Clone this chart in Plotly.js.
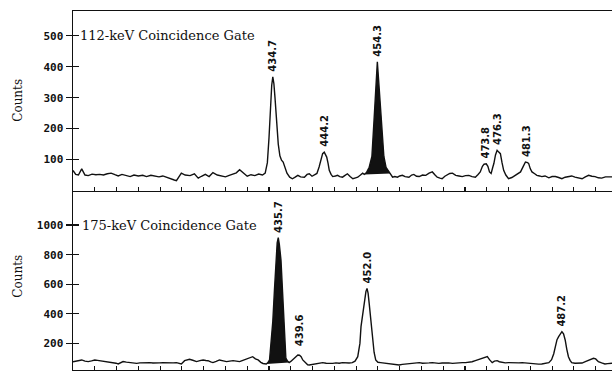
<!DOCTYPE html>
<html><head><meta charset="utf-8">
<script src="https://cdn.plot.ly/plotly-3.0.1.min.js"></script>
<style>html,body{margin:0;padding:0;background:#fff;} #chart{width:612px;height:371px;}</style>
</head><body><div id="chart"></div>
<script>
// ---- 112-keV gate spectrum (energy keV, counts) ----
const topEnergy = [398.0,398.5,399.0,399.6,400.2,400.8,401.5,402.2,402.9,403.6,404.3,405.0,405.7,406.3,407.0,407.8,408.5,409.2,410.0,410.8,411.5,412.3,413.0,413.8,414.5,415.2,416.0,416.6,417.0,417.5,417.9,418.6,419.5,420.3,421.0,421.6,422.3,423.0,423.7,424.5,425.2,426.0,426.7,427.4,428.0,428.6,429.3,430.0,430.7,431.4,432.1,432.8,433.3,433.7,434.0,434.3,434.5,434.7,434.9,435.1,435.4,435.7,436.0,436.3,436.6,436.9,437.3,437.8,438.3,438.8,439.3,439.8,440.5,441.0,441.4,441.9,442.3,442.8,443.2,443.6,443.85,444.15,444.4,444.6,444.85,445.07,445.4,445.7,446.2,446.6,447.0,447.5,447.9,448.4,448.9,449.4,449.9,450.3,450.8,451.2,451.5,451.9,452.4,452.9,453.3,453.6,453.9,454.2,454.5,454.8,455.1,455.5,455.9,456.3,456.7,457.1,457.6,458.0,458.5,459.0,459.7,460.2,460.6,461.1,461.6,462.2,462.8,463.4,464.0,464.5,464.9,465.4,465.8,466.3,466.7,467.2,467.7,468.3,468.9,469.5,470.1,470.7,471.3,471.9,472.4,472.8,473.2,473.5,473.9,474.2,474.5,474.8,475.1,475.3,475.6,475.9,476.2,476.5,476.8,477.1,477.5,478.0,478.6,479.3,479.8,480.2,480.7,481.1,481.5,481.7,482.0,482.3,482.8,483.2,483.7,484.1,484.7,485.4,486.0,486.6,487.2,487.8,488.4,489.0,489.6,490.2,490.8,491.5,492.1,492.7,493.3,493.9,494.5,495.1,495.8,496.7,497.0];
const topCounts = [65,52,50,70,50,48,53,51,52,50,54,56,51,47,52,48,45,50,47,49,45,49,47,44,47,42,38,34,32,45,56,50,48,54,40,46,52,45,58,50,46,44,49,52,57,67,55,46,51,48,53,50,56,90,170,280,340,367,345,300,220,150,112,98,92,75,56,43,38,43,49,44,43,52,54,46,49,55,76,105,119,124,115,108,88,65,52,45,47,49,45,43,48,54,45,38,41,43,50,56,52,58,75,110,230,330,416,340,250,170,110,75,64,55,43,45,43,47,49,45,43,50,52,46,45,50,49,56,60,50,43,40,38,46,49,55,56,49,47,45,48,49,45,43,52,60,78,85,86,78,60,55,75,87,115,130,124,119,90,65,50,38,42,49,55,60,78,92,90,87,70,60,54,49,47,45,47,41,45,45,42,38,43,45,47,43,41,38,44,49,46,45,41,40,44,45,44];

// ---- 175-keV gate spectrum ----
const botEnergy = [398.0,398.5,399.0,399.6,400.2,400.8,401.4,402.0,402.5,402.9,403.6,404.2,404.8,405.4,405.9,406.3,406.8,407.2,407.8,408.4,409.0,409.7,410.3,410.9,411.5,412.1,412.7,413.3,413.9,414.5,415.2,415.8,416.4,417.0,417.5,417.9,418.5,419.0,419.4,420.0,420.7,421.3,421.9,422.4,422.8,423.3,423.7,424.3,424.9,425.6,426.2,426.8,427.4,428.0,428.6,429.2,429.8,430.4,431.0,431.5,432.0,432.5,432.9,433.5,433.8,434.1,434.4,434.7,435.0,435.3,435.5,435.7,435.9,436.2,436.4,436.6,436.9,437.1,437.4,437.7,438.0,438.3,438.8,439.3,439.6,439.9,440.2,440.5,440.8,441.1,441.4,442.0,442.6,443.2,443.85,444.5,445.1,445.7,446.3,446.9,447.5,448.1,448.7,449.3,449.8,450.3,450.7,450.9,451.2,451.5,451.8,452.0,452.2,452.4,452.7,453.0,453.3,453.6,454.0,454.5,455.0,455.5,456.1,456.7,457.3,457.9,458.5,459.1,459.7,460.3,460.9,461.6,462.2,462.8,463.4,464.0,464.6,465.2,465.8,466.4,467.0,467.7,468.3,468.9,469.5,470.1,470.7,471.3,471.9,472.5,473.1,473.6,474.1,474.5,475.0,475.4,475.9,476.3,476.8,477.4,478.0,478.6,479.3,479.9,480.5,481.1,481.7,482.3,482.9,483.5,484.1,484.7,485.4,485.9,486.3,486.6,486.9,487.2,487.5,487.8,488.1,488.4,488.7,489.0,489.3,489.6,490.2,490.9,491.5,492.1,492.8,493.6,494.0,494.5,495.1,495.7,496.2,496.7,497.0];
const botCounts = [76,80,82,88,80,77,82,88,85,83,80,77,73,70,66,61,72,77,73,70,68,65,68,70,68,70,67,65,68,70,68,65,68,70,66,61,83,90,92,86,77,83,88,84,83,75,70,78,88,82,77,80,83,80,77,85,92,100,110,95,88,72,64,61,70,88,200,350,560,780,880,915,870,764,600,400,200,100,80,70,78,88,105,121,120,110,88,76,60,55,54,58,65,67,70,66,64,65,68,66,70,68,67,70,80,110,200,313,400,493,550,572,540,471,350,223,140,88,72,70,67,65,62,61,58,54,58,61,63,65,68,70,66,65,68,70,66,65,67,70,68,65,68,70,70,70,72,76,84,92,100,105,110,90,70,80,83,76,70,68,70,68,65,68,70,67,65,62,61,60,61,65,70,90,130,178,225,246,268,279,265,223,160,110,85,70,66,65,67,76,85,99,95,76,68,61,63,65,66];

// filled (shaded) peak windows, keV
const topShadeRange = [451.4, 456.5];
const botShadeRange = [433.4, 437.8];

// peak labels
const topPeakLabels = ['434.7','444.2','454.3','473.8','476.3','481.3'];
const topPeakE      = [434.7, 444.2, 454.0, 473.8, 476.0, 481.2];
const topPeakY      = [367, 124, 416, 86, 130, 92];
const botPeakLabels = ['435.7','439.6','452.0','487.2'];
const botPeakE      = [435.7, 439.6, 452.0, 487.8];
const botPeakY      = [915, 150, 572, 279];

const gateLabels = ['112-keV Coincidence Gate','175-keV Coincidence Gate'];
const gateLabelY = [500, 1000];
const topTicks = [100,200,300,400,500];
const botTicks = [200,400,600,800,1000];
const xTick0 = 402, xDtick = 4;
const xRange = [398, 497];

function slice(E, C, r){
  const xs=[], ys=[];
  for(let i=0;i<E.length;i++){ if(E[i]>=r[0] && E[i]<=r[1]){ xs.push(E[i]); ys.push(C[i]); } }
  return {x:xs, y:ys};
}
const topShade = slice(topEnergy, topCounts, topShadeRange);
const botShade = slice(botEnergy, botCounts, botShadeRange);

const lineStyle = {color:'#111', width:1.4};
const traces = [
  {x:topShade.x, y:topShade.y, xaxis:'x', yaxis:'y', mode:'lines', fill:'toself', fillcolor:'#111', line:{width:0}, hoverinfo:'skip'},
  {x:topEnergy, y:topCounts, xaxis:'x', yaxis:'y', mode:'lines', line:lineStyle},
  {x:botShade.x, y:botShade.y, xaxis:'x2', yaxis:'y2', mode:'lines', fill:'toself', fillcolor:'#111', line:{width:0}, hoverinfo:'skip'},
  {x:botEnergy, y:botCounts, xaxis:'x2', yaxis:'y2', mode:'lines', line:lineStyle},
  {x:[], y:[], xaxis:'x', yaxis:'y3', mode:'lines', hoverinfo:'skip'},
  {x:[], y:[], xaxis:'x2', yaxis:'y4', mode:'lines', hoverinfo:'skip'}
];

const tickFont = {family:'DejaVu Sans Mono', size:11, color:'#111', weight:'bold'};
const topRange = [0, 580];
const botRange = [20, 1234];

function yAx(range, ticks, domain, anchor){
  return {domain:domain, anchor:anchor, range:range, tickmode:'array', tickvals:ticks, ticktext:ticks.map(String),
    ticks:'outside', ticklen:6, tickwidth:1.3, tickcolor:'#111', showline:true, linecolor:'#111', linewidth:1.5,
    showgrid:false, zeroline:false, tickfont:tickFont, fixedrange:true};
}
function yOver(range, ticks, over, anchor){
  return {overlaying:over, anchor:anchor, range:range, tickmode:'array', tickvals:ticks, ticks:'inside', ticklen:6,
    tickwidth:1.3, tickcolor:'#111', showticklabels:false, showline:false, showgrid:false, zeroline:false, side:'left'};
}
function xAx(domainAnchor, mirror){
  return {anchor:domainAnchor, range:xRange, tickmode:'linear', tick0:xTick0, dtick:xDtick, ticks:'inside', ticklen:4,
    tickwidth:1.2, tickcolor:'#111', showticklabels:false, showline:true, mirror:mirror, linecolor:'#111', linewidth:1.5,
    showgrid:false, zeroline:false, fixedrange:true};
}

const peakFont = {family:'DejaVu Sans', size:10, color:'#111', weight:'bold'};
const annotations = [];
topPeakLabels.forEach((t,i)=>annotations.push({x:topPeakE[i], y:topPeakY[i], xref:'x', yref:'y', text:t, textangle:-90,
  showarrow:false, xanchor:'center', yanchor:'bottom', yshift:3, font:peakFont}));
botPeakLabels.forEach((t,i)=>annotations.push({x:botPeakE[i], y:botPeakY[i], xref:'x2', yref:'y2', text:t, textangle:-90,
  showarrow:false, xanchor:'center', yanchor:'bottom', yshift:3, font:peakFont}));
const gateFont = {family:'DejaVu Serif', size:13, color:'#111'};
annotations.push({x:0.009, y:gateLabelY[0], xref:'x domain', yref:'y', text:gateLabels[0], showarrow:false, xanchor:'left', yanchor:'middle', font:gateFont});
annotations.push({x:0.013, y:gateLabelY[1], xref:'x2 domain', yref:'y2', text:gateLabels[1], showarrow:false, xanchor:'left', yanchor:'middle', font:gateFont});
const countsFont = {family:'DejaVu Serif', size:12, color:'#111'};
annotations.push({x:-0.102, y:0.5, xref:'paper', yref:'y domain', text:'Counts', textangle:-90, showarrow:false, xanchor:'center', yanchor:'middle', font:countsFont});
annotations.push({x:-0.102, y:0.52, xref:'paper', yref:'y2 domain', text:'Counts', textangle:-90, showarrow:false, xanchor:'center', yanchor:'middle', font:countsFont});

const layout = {
  width:612, height:371, margin:{l:73, r:0, t:11, b:1},
  paper_bgcolor:'#fff', plot_bgcolor:'#fff', showlegend:false,
  xaxis: xAx('y', true),
  xaxis2: xAx('y2', false),
  yaxis: yAx(topRange, topTicks, [0.5,1], 'x'),
  yaxis2: yAx(botRange, botTicks, [0,0.5], 'x2'),
  yaxis3: yOver(topRange, topTicks, 'y', 'x'),
  yaxis4: yOver(botRange, botTicks, 'y2', 'x2'),
  annotations: annotations
};
Plotly.newPlot('chart', traces, layout, {staticPlot:true, displayModeBar:false});
</script>
</body></html>
